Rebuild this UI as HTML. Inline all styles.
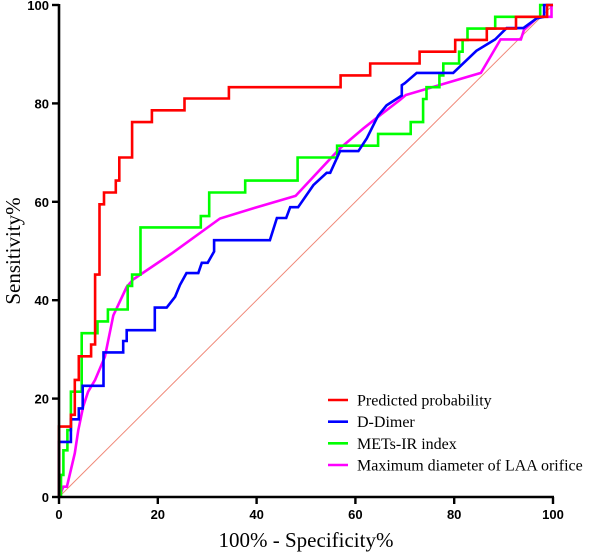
<!DOCTYPE html>
<html><head><meta charset="utf-8"><style>
body{margin:0;background:#fff}
svg{display:block}
.tk{font-family:"Liberation Sans",Arial,sans-serif;font-weight:bold;font-size:13px}
.tt{font-family:"Liberation Serif",serif;font-size:21px}
.lg{font-family:"Liberation Serif",serif;font-size:16px}
</style></head><body>
<svg id="chart" width="613" height="556" viewBox="0 0 613 556" xmlns="http://www.w3.org/2000/svg"></svg>
<script>
const xTicks=[0,20,40,60,80,100];
const yTicks=[0,20,40,60,80,100];
const seriesNames=["Predicted probability","D-Dimer","METs-IR index","Maximum diameter of LAA orifice"];
const seriesColors=["#ff0000","#0000ff","#00ff00","#ff00ff"];
const redX=[0,0,2.4,2.4,3.2,3.2,4.0,4.0,6.5,6.5,7.3,7.3,8.2,8.2,9.1,9.1,11.5,11.5,12.2,12.2,14.8,14.8,18.8,18.8,25.4,25.4,34.4,34.4,57,57,63,63,73,73,80.2,80.2,86.6,86.6,92.5,92.5,98.8,98.8,100];
const redY=[0,14.3,14.3,16.7,16.7,23.8,23.8,28.6,28.6,31.0,31.0,45.2,45.2,59.5,59.5,61.9,61.9,64.3,64.3,69.0,69.0,76.2,76.2,78.6,78.6,81.0,81.0,83.3,83.3,85.7,85.7,88.1,88.1,90.5,90.5,92.9,92.9,95.2,95.2,97.6,97.6,100,100];
const blueX=[0,0,2.4,2.4,4.0,4.0,4.8,4.8,9.0,9.0,13.0,13.0,13.7,13.7,19.4,19.4,21.8,23.5,24.5,25.8,28.2,28.9,30.1,31.4,31.4,42.7,44.1,46,46.8,48.4,51.5,54.2,54.9,56.9,60.6,62.3,64.6,66.3,69.4,69.4,70,72.4,79.8,84.5,88.3,90.6,94,96.7,98.2,98.2,100];
const blueY=[0,11.2,11.2,15.8,15.8,18.0,18.0,22.6,22.6,29.4,29.4,31.7,31.7,33.9,33.9,38.5,38.5,40.7,43.1,45.5,45.5,47.6,47.6,49.9,52.2,52.2,56.7,56.7,58.9,58.9,63.4,65.9,65.9,70.3,70.3,72.9,77.5,79.6,81.6,83.7,84.1,86.2,86.2,90.7,93.0,95.3,95.3,97.3,97.6,100,100];
const greenX=[0.4,0.4,0.9,0.9,1.7,1.7,2.4,2.4,4.6,4.6,7.8,7.8,9.9,9.9,13.9,13.9,14.8,14.8,16.5,16.5,28.7,28.7,30.4,30.4,37.7,37.7,48.3,48.3,56.3,56.3,64.6,64.6,71.2,71.2,73.7,73.7,74.4,74.4,77.0,77.0,77.8,77.8,81.0,81.0,81.7,81.7,82.7,82.7,88.3,88.3,97.4,97.4,98];
const greenY=[0,4.5,4.5,9.5,9.5,13.6,13.6,21.4,21.4,33.3,33.3,35.7,35.7,38.1,38.1,42.9,42.9,45.2,45.2,54.8,54.8,57.1,57.1,61.9,61.9,64.3,64.3,69.0,69.0,71.4,71.4,73.8,73.8,76.2,76.2,80.9,80.9,83.3,83.3,85.7,85.7,88.1,88.1,90.5,90.5,92.9,92.9,95.2,95.2,97.6,97.6,100,100];
const magX=[0,0.9,1.6,3.2,3.9,4.9,5.9,7.3,9.3,11.0,13.7,15.0,22.8,32.6,39.7,47.9,56.9,61.6,65,69.0,70.2,85.4,89.4,93.5,94.1,97.0,99.7,99.7];
const magY=[0,2.1,2.1,8.9,13.6,18.4,21.4,23.8,28.5,36.9,42.7,44.2,49.5,56.6,58.8,61.2,70.9,74.9,77.6,80.7,81.7,86.2,93.0,93.0,94.9,97.6,97.6,100];
const seriesX=[redX,blueX,greenX,magX], seriesY=[redY,blueY,greenY,magY];
const seriesKeys=["predicted-probability","d-dimer","mets-ir-index","laa-orifice-diameter"];

const NS="http://www.w3.org/2000/svg";
const svg=document.getElementById('chart');
const X0=59,X1=553,Y0=497,Y1=5;
const sx=v=>X0+(v/100)*(X1-X0);
const sy=v=>Y0-(v/100)*(Y0-Y1);
function mk(tag,attrs,parent){const e=document.createElementNS(NS,tag);for(const k in attrs)e.setAttribute(k,attrs[k]);(parent||svg).appendChild(e);return e;}

const diag=mk('line',{x1:sx(0),y1:sy(0),x2:sx(100),y2:sy(100),stroke:'#f08878','stroke-width':1});



for(let s=3;s>=0;s--){
  const pts=seriesX[s].map((x,i)=>sx(x).toFixed(1)+','+sy(seriesY[s][i]).toFixed(1)).join(' ');
  const pl=mk('polyline',{points:pts,fill:'none',stroke:seriesColors[s],'stroke-width':2.6,'stroke-linejoin':'miter'});
  
  
}

const ya=mk('line',{x1:X0,y1:Y1-1,x2:X0,y2:Y0+1.3,stroke:'#000','stroke-width':2.6});


const xa=mk('line',{x1:X0-1.3,y1:Y0,x2:X1+1,y2:Y0,stroke:'#000','stroke-width':2.6});



yTicks.forEach(v=>{
  const t=mk('line',{x1:X0-7,y1:sy(v),x2:X0,y2:sy(v),stroke:'#000','stroke-width':2.4});
  
  
  const l=mk('text',{x:X0-10,y:sy(v)+5,'text-anchor':'end',class:'tk'});
  l.textContent=v;
  
  
});
xTicks.forEach(v=>{
  const t=mk('line',{x1:sx(v),y1:Y0,x2:sx(v),y2:Y0+7,stroke:'#000','stroke-width':2.4});
  
  
  const l=mk('text',{x:sx(v),y:Y0+22,'text-anchor':'middle',class:'tk'});
  l.textContent=v;
  
  
});

const xt=mk('text',{x:306,y:547,'text-anchor':'middle',class:'tt'});
xt.textContent='100% - Specificity%';


const yt=mk('text',{x:0,y:0,'text-anchor':'middle',class:'tt',transform:'translate(20,251) rotate(-90)'});
yt.textContent='Sensitivity%';



const legY=[400,421.7,443.3,465];
seriesNames.forEach((n,i)=>{
  const g=mk('g',{});
  
  
  mk('line',{x1:328,y1:legY[i],x2:348,y2:legY[i],stroke:seriesColors[i],'stroke-width':2.6},g);
  const t=mk('text',{x:357,y:legY[i]+5.5,class:'lg'},g);
  t.textContent=n;
});
</script>
</body></html>
